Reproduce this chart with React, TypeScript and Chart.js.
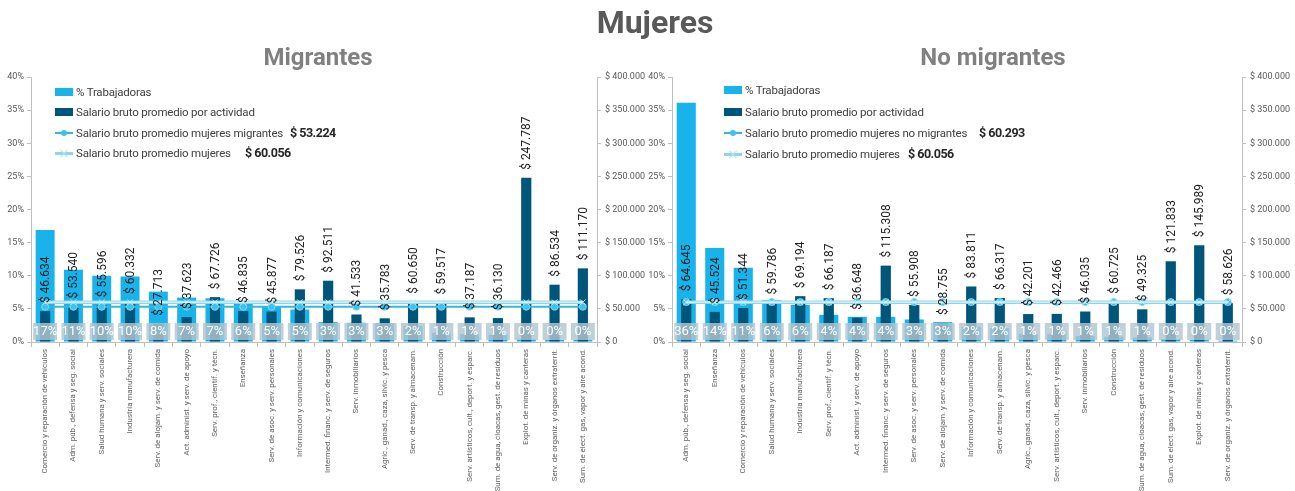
import React, { useEffect, useRef } from 'react';
import { Chart, registerables } from 'chart.js';

Chart.register(...registerables);

// ---------- DATA ----------
const migCategories = [
  'Comercio y reparación de vehículos',
  'Adm. púb., defensa y seg. social',
  'Salud humana y serv. sociales',
  'Industria manufacturera',
  'Serv. de alojam. y serv. de comida',
  'Act. administ. y serv. de apoyo',
  'Serv. prof., cientif. y técn.',
  'Enseñanza',
  'Serv. de asoc. y serv. personales',
  'Información y comunicaciones',
  'Intermed. financ. y serv. de seguros',
  'Serv. inmobiliarios',
  'Agric., ganad., caza, silvic. y pesca',
  'Serv. de transp. y almacenam.',
  'Construcción',
  'Serv. artísticos, cult., deport. y esparc.',
  'Sum. de agua, cloacas, gest. de residuos',
  'Explot. de minas y canteras',
  'Serv. de organiz. y órganos extraterrit.',
  'Sum. de elect. gas, vapor y aire acond.',
];
const migPct = [16.9, 10.9, 10.0, 9.9, 7.6, 6.7, 6.6, 5.8, 5.4, 4.9, 3.0, 2.9, 2.8, 2.4, 1.4, 1.2, 1.1, 0.4, 0.3, 0.3];
const migSalary = [46634, 53540, 55596, 60332, 27713, 37623, 67726, 46835, 45877, 79526, 92511, 41533, 35783, 60650, 59517, 37187, 36130, 247787, 86534, 111170];
const migGroupAvg = 53224;

const noMigCategories = [
  'Adm. púb., defensa y seg. social',
  'Enseñanza',
  'Comercio y reparación de vehículos',
  'Salud humana y serv. sociales',
  'Industria manufacturera',
  'Serv. prof., cientif. y técn.',
  'Act. administ. y serv. de apoyo',
  'Intermed. financ. y serv. de seguros',
  'Serv. de asoc. y serv. personales',
  'Serv. de alojam. y serv. de comida',
  'Información y comunicaciones',
  'Serv. de transp. y almacenam.',
  'Agric., ganad., caza, silvic. y pesca',
  'Serv. artísticos, cult., deport. y esparc.',
  'Serv. inmobiliarios',
  'Construcción',
  'Sum. de agua, cloacas, gest. de residuos',
  'Sum. de elect. gas, vapor y aire acond.',
  'Explot. de minas y canteras',
  'Serv. de organiz. y órganos extraterrit.',
];
const noMigPct = [36.1, 14.2, 11.2, 6.3, 5.6, 4.1, 3.8, 3.8, 3.4, 3.0, 2.3, 2.1, 1.2, 1.2, 0.9, 0.8, 0.7, 0.4, 0.3, 0.2];
const noMigSalary = [64645, 45524, 51344, 59786, 69194, 66187, 36648, 115308, 55908, 28755, 83811, 66317, 42201, 42466, 46035, 60725, 49325, 121833, 145989, 58626];
const noMigGroupAvg = 60293;

const womenAvg = 60056;

const pctTicks = [0, 5, 10, 15, 20, 25, 30, 35, 40];
const salaryTicks = [0, 50000, 100000, 150000, 200000, 250000, 300000, 350000, 400000];

// ---------- STYLE ----------
const LIGHT = '#17b3ea';
const DARK = '#00567a';
const GROUP_LINE = '#35b7de';
const WOMEN_LINE = '#8fd5e8';
const AXIS = '#bfbfbf';
const TICK_TXT = '#595959';

const fmt = (v: number) => String(v).replace(/\B(?=(\d{3})+(?!\d))/g, '.');

const labelPlugin = {
  id: 'customLabels',
  afterDatasetDraw(chart: any, args: any) {
    if (args.index !== 3) return;
    const meta = chart.getDatasetMeta(3);
    const ctx = chart.ctx;
    ctx.save();
    ctx.strokeStyle = 'rgba(255,255,255,0.75)';
    ctx.lineWidth = 1.2;
    ctx.beginPath();
    meta.data.forEach((p: any, i: number) => {
      if (i === 0) ctx.moveTo(p.x, p.y);
      else ctx.lineTo(p.x, p.y);
    });
    ctx.stroke();
    ctx.restore();
  },
  afterDatasetsDraw(chart: any) {
    const ctx = chart.ctx;
    const pctMeta = chart.getDatasetMeta(0);
    const salMeta = chart.getDatasetMeta(1);
    const pctData = chart.data.datasets[0].data as number[];
    const salData = chart.data.datasets[1].data as number[];
    const base = chart.scales.yPct.getPixelForValue(0);
    ctx.save();
    // percent boxes
    ctx.font = '13px Roboto';
    ctx.textAlign = 'center';
    ctx.textBaseline = 'middle';
    pctMeta.data.forEach((bar: any, i: number) => {
      const x = bar.x;
      ctx.fillStyle = 'rgba(178,198,208,0.82)';
      ctx.fillRect(x - 12, base - 19, 24, 17);
      ctx.fillStyle = '#ffffff';
      ctx.fillText(Math.round(pctData[i]) + '%', x, base - 10);
    });
    // salary labels
    ctx.font = '12px Roboto';
    ctx.fillStyle = '#1e1e1e';
    ctx.textAlign = 'left';
    salMeta.data.forEach((bar: any, i: number) => {
      ctx.save();
      ctx.translate(bar.x + 1, bar.y - 8);
      ctx.rotate(-Math.PI / 2);
      ctx.fillText('$ ' + fmt(salData[i]), 0, 0);
      ctx.restore();
    });
    ctx.restore();
  },
};

type PanelProps = {
  left: number;
  width: number;
  leftAxis: number;
  rightAxis: number;
  categories: string[];
  pct: number[];
  salary: number[];
  groupAvg: number;
};

function Panel(p: PanelProps) {
  const ref = useRef<HTMLCanvasElement | null>(null);
  useEffect(() => {
    if (!ref.current) return;
    const chart = new Chart(ref.current, {
      type: 'bar',
      data: {
        labels: p.categories,
        datasets: [
          {
            type: 'bar',
            label: '% Trabajadoras',
            data: p.pct,
            yAxisID: 'yPct',
            backgroundColor: LIGHT,
            barPercentage: 0.67,
            categoryPercentage: 1,
            grouped: false,
            order: 3,
          } as any,
          {
            type: 'bar',
            label: 'Salario bruto promedio por actividad',
            data: p.salary,
            yAxisID: 'ySal',
            backgroundColor: DARK,
            barPercentage: 0.36,
            categoryPercentage: 1,
            grouped: false,
            order: 2,
          } as any,
          {
            type: 'line',
            label: 'Salario bruto promedio grupo',
            data: p.categories.map(() => p.groupAvg),
            yAxisID: 'ySal',
            borderColor: GROUP_LINE,
            borderWidth: 2,
            pointStyle: 'circle',
            pointRadius: 3.5,
            pointBackgroundColor: '#3cc3ee',
            pointBorderColor: '#7fd6f2',
            pointBorderWidth: 1,
            order: 1,
          } as any,
          {
            type: 'line',
            label: 'Salario bruto promedio mujeres',
            data: p.categories.map(() => womenAvg),
            yAxisID: 'ySal',
            borderColor: WOMEN_LINE,
            borderWidth: 3.5,
            pointStyle: 'crossRot',
            pointRadius: 4,
            pointBorderColor: '#b5e4f0',
            pointBorderWidth: 1,
            order: 0,
          } as any,
        ],
      },
      options: {
        responsive: false,
        animation: false,
        events: [],
        layout: { padding: { top: 77, bottom: 0, left: 0, right: 0 } },
        plugins: { legend: { display: false }, tooltip: { enabled: false }, title: { display: false } },
        scales: {
          x: {
            offset: true,
            grid: { offset: true, drawOnChartArea: false, tickLength: 5, color: AXIS },
            border: { color: AXIS },
            ticks: {
              autoSkip: false,
              minRotation: 90,
              maxRotation: 90,
              padding: 2,
              color: '#666666',
              font: { family: 'Roboto', size: 7.9 },
            },
            afterFit: (s: any) => { s.height = 149; },
          },
          yPct: {
            type: 'linear',
            position: 'left',
            min: 0,
            max: 40,
            afterBuildTicks: (s: any) => { s.ticks = pctTicks.map((v) => ({ value: v })); },
            grid: { drawOnChartArea: false, tickLength: 4, color: AXIS },
            border: { color: AXIS },
            ticks: {
              padding: 3,
              color: TICK_TXT,
              font: { family: 'Roboto', size: 9 },
              callback: (v: any) => v + '%',
            },
            afterFit: (s: any) => { s.width = p.leftAxis; },
          },
          ySal: {
            type: 'linear',
            position: 'right',
            min: 0,
            max: 400000,
            afterBuildTicks: (s: any) => { s.ticks = salaryTicks.map((v) => ({ value: v })); },
            grid: { drawOnChartArea: false, tickLength: 4, color: AXIS },
            border: { color: AXIS },
            ticks: {
              padding: 4,
              color: TICK_TXT,
              font: { family: 'Roboto', size: 9 },
              callback: (v: any) => '$ ' + fmt(Number(v)),
            },
            afterFit: (s: any) => { s.width = p.rightAxis; },
          },
        },
      } as any,
      plugins: [labelPlugin],
    });
    return () => chart.destroy();
  }, []);
  return (
    <canvas
      ref={ref}
      width={p.width}
      height={491}
      style={{ position: 'absolute', left: p.left, top: 0, width: p.width, height: 491 }}
    />
  );
}

function LegendRow(props: { x: number; y: number; kind: 'light' | 'dark' | 'group' | 'women'; text: string; value?: string; valueX?: number }) {
  const { x, y, kind, text, value, valueX } = props;
  let swatch: React.ReactNode;
  if (kind === 'light' || kind === 'dark') {
    swatch = <div style={{ position: 'absolute', left: 0, top: 4, width: 18, height: 8, background: kind === 'light' ? LIGHT : DARK }} />;
  } else if (kind === 'group') {
    swatch = (
      <>
        <div style={{ position: 'absolute', left: 0, top: 7, width: 18, height: 2, background: GROUP_LINE }} />
        <div style={{ position: 'absolute', left: 6, top: 5, width: 6, height: 6, borderRadius: 3, background: '#3cc3ee' }} />
      </>
    );
  } else {
    swatch = (
      <>
        <div style={{ position: 'absolute', left: 0, top: 6.5, width: 18, height: 3, background: WOMEN_LINE }} />
        <div style={{ position: 'absolute', left: 4, top: 8, width: 10, height: 1, background: '#b5e4f0', transform: 'rotate(45deg)' }} />
        <div style={{ position: 'absolute', left: 4, top: 8, width: 10, height: 1, background: '#b5e4f0', transform: 'rotate(-45deg)' }} />
      </>
    );
  }
  return (
    <>
      <div style={{ position: 'absolute', left: x, top: y - 8, width: 18, height: 16 }}>{swatch}</div>
      <div style={{ position: 'absolute', left: x + 21, top: y - 8, height: 16, lineHeight: '16px', fontSize: 11.5, letterSpacing: '-0.2px', color: '#404040', whiteSpace: 'nowrap', fontFamily: 'Roboto' }}>
        {text}
      </div>
      {value && (
        <div style={{ position: 'absolute', left: valueX, top: y - 9, height: 18, lineHeight: '18px', fontSize: 12.5, letterSpacing: '-0.5px', fontWeight: 700, color: '#262626', whiteSpace: 'nowrap', fontFamily: 'Roboto' }}>
          {value}
        </div>
      )}
    </>
  );
}

export default function App() {
  return (
    <div style={{ position: 'absolute', left: 0, top: 0, width: 1295, height: 491, background: '#fff', overflow: 'hidden', fontFamily: 'Roboto' }}>
      <Panel left={0} width={648} leftAxis={31} rightAxis={51} categories={migCategories} pct={migPct} salary={migSalary} groupAvg={migGroupAvg} />
      <Panel left={648} width={647} leftAxis={24} rightAxis={53} categories={noMigCategories} pct={noMigPct} salary={noMigSalary} groupAvg={noMigGroupAvg} />

      <div style={{ position: 'absolute', left: 455, width: 400, top: 6, textAlign: 'center', fontSize: 32, lineHeight: '32px', fontWeight: 700, color: '#595959' }}>Mujeres</div>
      <div style={{ position: 'absolute', left: 168, width: 300, top: 45, textAlign: 'center', fontSize: 24, lineHeight: '24px', fontWeight: 700, color: '#808080' }}>Migrantes</div>
      <div style={{ position: 'absolute', left: 843, width: 300, top: 45, textAlign: 'center', fontSize: 24, lineHeight: '24px', fontWeight: 700, color: '#808080' }}>No migrantes</div>

      <LegendRow x={55} y={92} kind="light" text="% Trabajadoras" />
      <LegendRow x={55} y={112} kind="dark" text="Salario bruto promedio por actividad" />
      <LegendRow x={55} y={133} kind="group" text="Salario bruto promedio mujeres migrantes" value={'$ ' + fmt(migGroupAvg)} valueX={290} />
      <LegendRow x={55} y={153} kind="women" text="Salario bruto promedio mujeres" value={'$ ' + fmt(womenAvg)} valueX={245} />

      <LegendRow x={724} y={90} kind="light" text="% Trabajadoras" />
      <LegendRow x={724} y={112} kind="dark" text="Salario bruto promedio por actividad" />
      <LegendRow x={724} y={133} kind="group" text="Salario bruto promedio mujeres no migrantes" value={'$ ' + fmt(noMigGroupAvg)} valueX={979} />
      <LegendRow x={724} y={154} kind="women" text="Salario bruto promedio mujeres" value={'$ ' + fmt(womenAvg)} valueX={908} />
    </div>
  );
}
